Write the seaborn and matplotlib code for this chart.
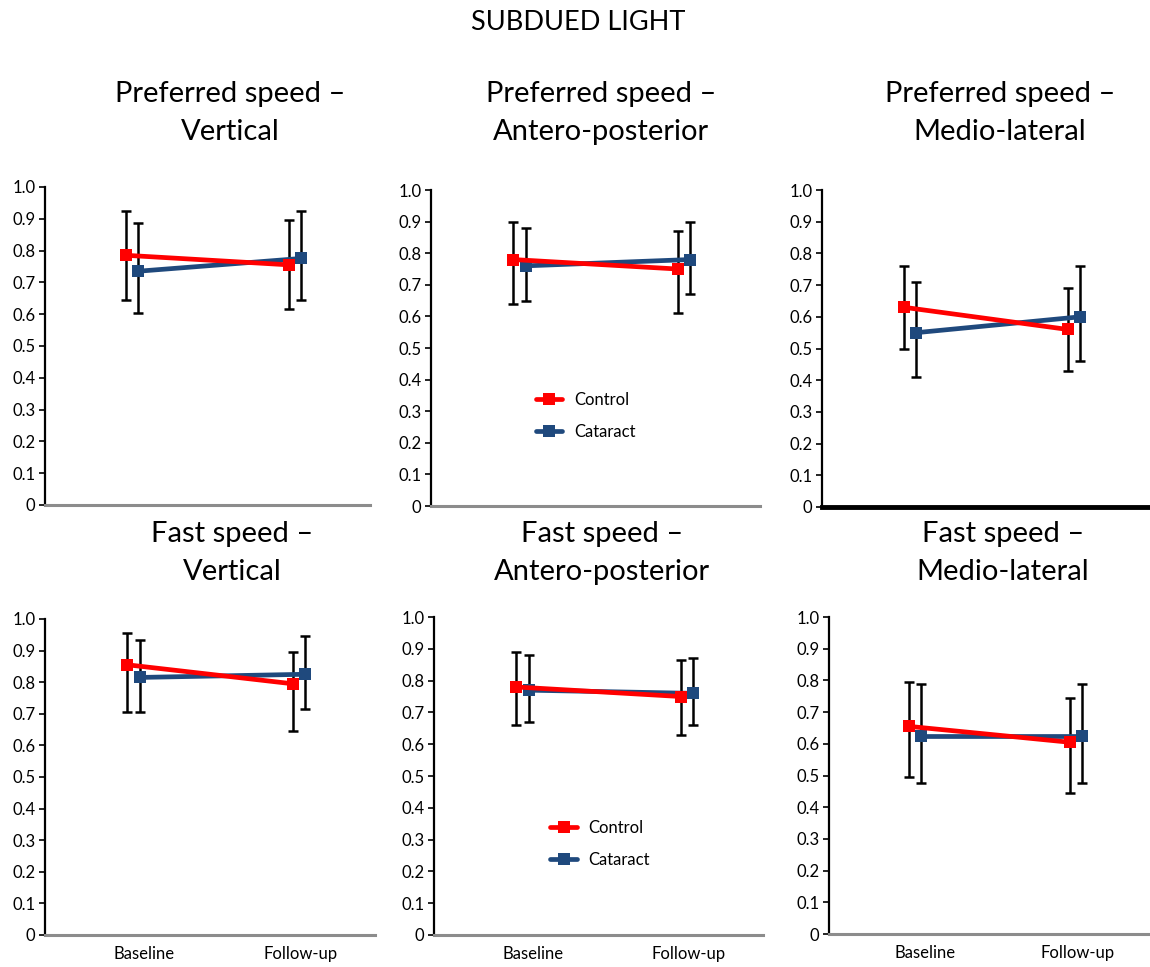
import numpy as np
import pandas as pd
import matplotlib
matplotlib.use("Agg")
import matplotlib.pyplot as plt
import seaborn as sns
from matplotlib.lines import Line2D

sns.set_style("white")
plt.rcParams['font.family'] = ['Lato', 'DejaVu Sans']
plt.rcParams['text.color'] = 'black'
plt.rcParams['xtick.color'] = 'black'
plt.rcParams['ytick.color'] = 'black'
plt.rcParams['axes.labelcolor'] = 'black'

# ---- data ----
main_title = "SUBDUED LIGHT"
panel_titles = [
    "Preferred speed –\nVertical",
    "Preferred speed –\nAntero-posterior",
    "Preferred speed –\nMedio-lateral",
    "Fast speed –\nVertical",
    "Fast speed –\nAntero-posterior",
    "Fast speed –\nMedio-lateral",
]
times = ["Baseline", "Follow-up"]
groups = ["Control", "Cataract"]

control_mean = [[0.785, 0.755], [0.78, 0.75], [0.63, 0.56],
                [0.855, 0.795], [0.78, 0.75], [0.655, 0.605]]
control_lo = [[0.645, 0.615], [0.64, 0.61], [0.50, 0.43],
              [0.705, 0.645], [0.66, 0.63], [0.495, 0.445]]
control_hi = [[0.925, 0.895], [0.90, 0.87], [0.76, 0.69],
              [0.955, 0.895], [0.89, 0.865], [0.795, 0.745]]

cataract_mean = [[0.735, 0.775], [0.76, 0.78], [0.55, 0.60],
                 [0.815, 0.825], [0.77, 0.76], [0.625, 0.625]]
cataract_lo = [[0.605, 0.645], [0.65, 0.67], [0.41, 0.46],
               [0.705, 0.715], [0.67, 0.66], [0.475, 0.475]]
cataract_hi = [[0.885, 0.925], [0.88, 0.90], [0.71, 0.76],
               [0.935, 0.945], [0.88, 0.87], [0.79, 0.79]]

yticks = [0, 0.1, 0.2, 0.3, 0.4, 0.5, 0.6, 0.7, 0.8, 0.9, 1.0]
ytick_labels = ["0", "0.1", "0.2", "0.3", "0.4", "0.5", "0.6", "0.7", "0.8", "0.9", "1.0"]

# ---- long table ----
rows = []
for p in range(6):
    for g, (m, lo, hi) in zip(groups, [(control_mean, control_lo, control_hi),
                                       (cataract_mean, cataract_lo, cataract_hi)]):
        for t in range(2):
            rows.append(dict(panel=p, group=g, time=t, mean=m[p][t],
                             lo=lo[p][t], hi=hi[p][t]))
df = pd.DataFrame(rows)

colors = {"Control": "#FF0000", "Cataract": "#1F497D"}
offsets = {"Control": 0.0, "Cataract": 0.075}
df["xpos"] = df["time"] + df["group"].map(offsets)

fig = plt.figure(figsize=(11.5, 9.67), dpi=100)

axes_rect = [
    [0.0391, 0.4778, 0.2826, 0.3289],
    [0.3748, 0.4767, 0.2860, 0.3268],
    [0.7148, 0.4757, 0.2852, 0.3278],
    [0.0391, 0.0331, 0.2870, 0.3268],
    [0.3774, 0.0331, 0.2860, 0.3288],
    [0.7209, 0.0341, 0.2791, 0.3278],
]
title_x = [230, 601, 1000, 232, 602, 1003]
title_y = [113, 113, 113, 553, 553, 553]

for p in range(6):
    ax = fig.add_axes(axes_rect[p])
    sub = df[df.panel == p]
    # error bars
    for g in ["Cataract", "Control"]:
        s = sub[sub.group == g]
        ax.errorbar(s["xpos"], s["mean"],
                    yerr=[s["mean"] - s["lo"], s["hi"] - s["mean"]],
                    fmt="none", ecolor="black", elinewidth=1.8,
                    capsize=3.5, capthick=1.8, zorder=2)
    for g in ["Cataract", "Control"]:
        s = sub[sub.group == g]
        sns.lineplot(data=s, x="xpos", y="mean", ax=ax, color=colors[g],
                     linewidth=3.4, marker="s", markersize=8,
                     markeredgewidth=0, legend=False, zorder=3)
    ax.set_xlim(-0.5, 1.5)
    ax.set_ylim(0, 1.0)
    ax.set_yticks(yticks)
    ax.set_yticklabels(ytick_labels, fontsize=12)
    ax.set_xlabel("")
    ax.set_ylabel("")
    for sp in ["top", "right"]:
        ax.spines[sp].set_visible(False)
    ax.spines["left"].set_color("black")
    ax.spines["left"].set_linewidth(1.6)
    if p == 2:
        ax.spines["bottom"].set_color("black")
        ax.spines["bottom"].set_linewidth(3.5)
    else:
        ax.spines["bottom"].set_color("#8C8C8C")
        ax.spines["bottom"].set_linewidth(2.2)
    ax.tick_params(axis="y", which="major", direction="out", length=4,
                   width=1.2, color="black", left=True, pad=3,
                   labelcolor="black")
    if p >= 3:
        ax.set_xticks([0.1, 1.05])
        ax.set_xticklabels(times, fontsize=12)
        ax.tick_params(axis="x", length=0, pad=8, labelcolor="black")
    else:
        ax.set_xticks([])
    ax.grid(False)
    fig.text(title_x[p] / 1150, 1 - title_y[p] / 967, panel_titles[p],
             ha="center", va="center", fontsize=21, linespacing=1.55,
             color="black")
    if p in (1, 4):
        handles = [Line2D([0], [0], color=colors[g], lw=3.4, marker="s",
                          markersize=8, markeredgewidth=0) for g in groups]
        bx = 0.47 if p == 1 else 0.505
        ax.legend(handles, groups, loc="center", bbox_to_anchor=(bx, 0.286),
                  frameon=False, fontsize=12, labelspacing=0.95,
                  handlelength=1.6, handletextpad=0.7)

fig.text(578 / 1150, 1 - 22 / 967, main_title, ha="center", va="center",
         fontsize=19.5, color="black")

fig.savefig("out.png", dpi=100)
